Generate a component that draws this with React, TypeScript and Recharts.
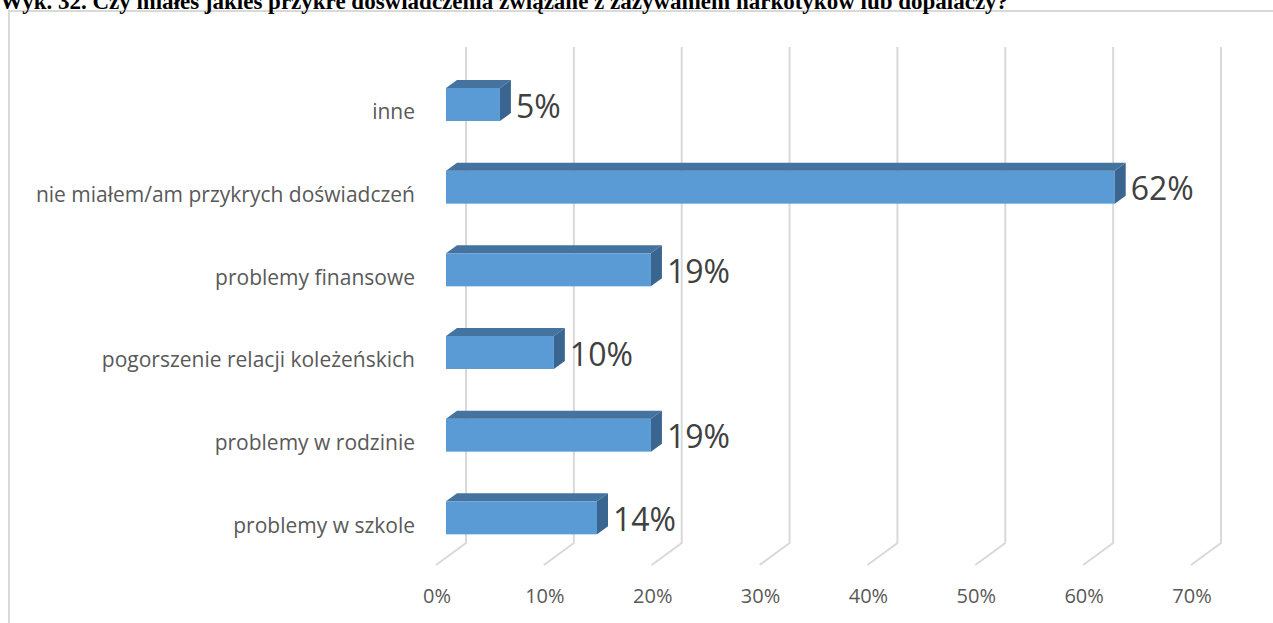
import { BarChart, Bar, XAxis, YAxis, CartesianGrid, LabelList } from 'recharts'

const title = 'Wyk. 32. Czy miałeś jakieś przykre doświadczenia związane z zażywaniem narkotyków lub dopalaczy?'
const categories = [
  'inne',
  'nie miałem/am przykrych doświadczeń',
  'problemy finansowe',
  'pogorszenie relacji koleżeńskich',
  'problemy w rodzinie',
  'problemy w szkole',
]
const values = [5, 62, 19, 10, 19, 14]
const xTicks = [0, 10, 20, 30, 40, 50, 60, 70]

const data = categories.map((name, i) => ({ name, value: values[i] }))

const FONT = '"Open Sans", "Noto Sans", sans-serif'
// 3D depth of the bars and of the back wall
const DX = 11, DY = 8

const Bar3D = (p: any) => {
  const { x, y, width: w, height: h } = p
  if (w <= 0) return null
  return (
    <g>
      <rect x={x} y={y} width={w} height={h} fill="#5b9bd5" />
      <polygon points={`${x},${y} ${x + DX},${y - DY} ${x + w + DX},${y - DY} ${x + w},${y}`} fill="#44739f" />
      <polygon points={`${x + w},${y} ${x + w + DX},${y - DY} ${x + w + DX},${y + h - DY} ${x + w},${y + h}`} fill="#3a6590" />
    </g>
  )
}

const GridLine = (p: any) => {
  const { x1, y1, y2, index } = p
  const bx = x1 + 20
  return (
    <g key={`g-${index}`}>
      <polyline
        points={`${bx},${y1 - 16} ${bx},${y2 - 16} ${x1 - 10},${y2 + 6}`}
        fill="none" stroke="#d9d9d9" strokeWidth={2}
      />
    </g>
  )
}

const XTick = (p: any) => (
  <text x={p.x - 9} y={p.y + 44} textAnchor="middle" fontSize={20} fill="#595959" fontFamily={FONT}>
    {p.payload.value}%
  </text>
)

const YTick = (p: any) => (
  <text x={p.x - 31} y={p.y + 15} textAnchor="end" fontSize={21} fill="#595959" fontFamily={FONT}>
    {p.payload.value}
  </text>
)

const ValueLabel = (p: any) => (
  <text x={p.x + p.width + DX + 5} y={p.y + p.height / 2 + 13} fontSize={32} fill="#404040" fontFamily={FONT}>
    {p.value}%
  </text>
)

export default function App() {
  return (
    <div style={{ position: 'absolute', left: 0, top: 0, width: 1273, height: 623, overflow: 'hidden', background: '#fff' }}>
      <div style={{ position: 'absolute', left: 8, top: 10, width: 1300, height: 700, border: '2px solid #d9d9d9' }} />
      <svg width={1273} height={20} style={{ position: 'absolute', left: 0, top: 0 }}>
        <text x={0} y={9} fontSize={23} fontWeight="bold" fontFamily='"Liberation Serif", "Times New Roman", serif' fill="#000">
          {title}
        </text>
      </svg>
      <div style={{ position: 'absolute', left: 0, top: 0 }}>
        <BarChart
          width={1273}
          height={623}
          data={data}
          layout="vertical"
          margin={{ top: 63, right: 72, bottom: 0, left: 0 }}
        >
          <CartesianGrid horizontal={false} vertical={GridLine} />
          <XAxis
            type="number"
            domain={[0, 70]}
            ticks={xTicks}
            height={64}
            axisLine={false}
            tickLine={false}
            tickSize={0}
            tickMargin={0}
            tick={XTick}
          />
          <YAxis
            type="category"
            dataKey="name"
            width={446}
            axisLine={false}
            tickLine={false}
            tickSize={0}
            tickMargin={0}
            tick={YTick}
          />
          <Bar dataKey="value" barSize={33} shape={Bar3D} isAnimationActive={false}>
            <LabelList dataKey="value" content={ValueLabel} />
          </Bar>
        </BarChart>
      </div>
    </div>
  )
}
